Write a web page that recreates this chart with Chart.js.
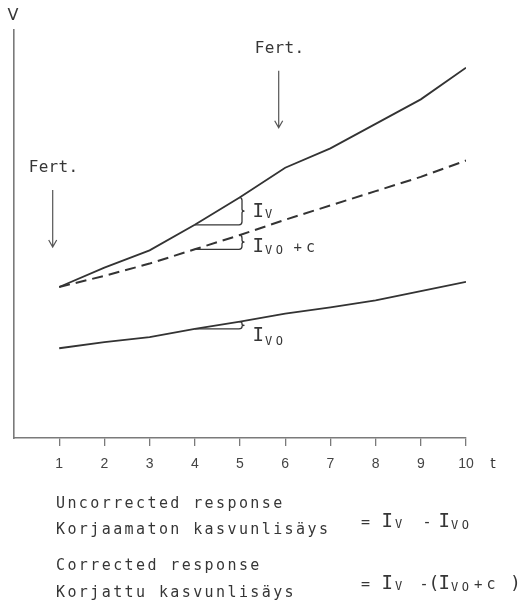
<!DOCTYPE html>
<html>
<head>
<meta charset="utf-8">
<script src="https://cdn.jsdelivr.net/npm/chart.js@4"></script>
<style>
  html, body { margin: 0; padding: 0; background: #fff; }
  #wrap { width: 522px; height: 605px; }
</style>
</head>
<body>
<div id="wrap"><canvas id="c" width="522" height="605"></canvas></div>
<script>
// Time steps (t) and tick labels of the horizontal axis
const times = [1, 2, 3, 4, 5, 6, 7, 8, 9, 10];
const tickLabels = ['1', '2', '3', '4', '5', '6', '7', '8', '9', '10'];

// Volume (V) of the fertilised stand, the expected development without
// fertilisation, and the unfertilised control stand
const fertilisedVolume = [14.8, 16.7, 18.4, 20.9, 23.6, 26.5, 28.4, 30.8, 33.2, 36.3];
const expectedVolume   = [14.8, 15.9, 17.1, 18.5, 19.9, 21.4, 22.8, 24.2, 25.6, 27.2];
const controlVolume    = [8.8, 9.4, 9.9, 10.7, 11.4, 12.2, 12.8, 13.5, 14.4, 15.3];

// Fertilisation moments and the period whose increments are marked
const fertilisationTimes = [1, 6];
const periodStart = 4;
const periodEnd = 5;

const INK = '#363636';
const AXIS = '#7a7a7a';
const MONO = '"DejaVu Sans Mono", monospace';

function pairs(values) {
  return times.map((t, i) => ({ x: t, y: values[i] }));
}

// Draws text runs; a run is placed at its own x ("at") or after the previous one
function drawRuns(ctx, x, base, runs) {
  for (const r of runs) {
    if (r.at !== undefined) x = r.at;
    x += r.gap || 0;
    ctx.font = `${r.size}px ${r.family || MONO}`;
    for (const ch of r.text) {
      ctx.fillText(ch, x, base + (r.dy || 0));
      x += ctx.measureText(ch).width + (r.spacing || 0);
    }
  }
  return x;
}

// Right curly brace between two vertical pixel positions
function brace(ctx, x, yTop, yBot) {
  const mid = (yTop + yBot) / 2;
  const r = Math.min(3, (yBot - yTop) / 4);
  ctx.beginPath();
  ctx.moveTo(x - 1, yTop);
  ctx.quadraticCurveTo(x + 2, yTop, x + 2, yTop + r);
  ctx.lineTo(x + 2, mid - r * 0.6);
  ctx.quadraticCurveTo(x + 2, mid, x + 4.5, mid);
  ctx.quadraticCurveTo(x + 2, mid, x + 2, mid + r * 0.6);
  ctx.lineTo(x + 2, yBot - r);
  ctx.quadraticCurveTo(x + 2, yBot, x - 1, yBot);
  ctx.stroke();
}

const increments = [
  { values: fertilisedVolume, dy: -8,
    runs: [{ text: 'I', size: 19 }, { text: 'V', size: 12, gap: 1, dy: 1 }] },
  { values: expectedVolume, dy: 3,
    runs: [{ text: 'I', size: 19 }, { text: 'VO', size: 12, gap: 1, dy: 2, spacing: 3.6 },
           { text: '+', size: 14, gap: 7 }, { text: 'c', size: 15, gap: 4 }] },
  { values: controlVolume, dy: 12,
    runs: [{ text: 'I', size: 19 }, { text: 'VO', size: 12, gap: 1, dy: 4, spacing: 3.6 }] }
];

const annotations = {
  id: 'annotations',
  afterDatasetsDraw(chart) {
    const { ctx, scales: { x, y } } = chart;
    const X = v => x.getPixelForValue(v);
    const Y = v => y.getPixelForValue(v);
    const i0 = times.indexOf(periodStart);
    const i1 = times.indexOf(periodEnd);

    ctx.save();
    ctx.strokeStyle = INK;
    ctx.fillStyle = INK;
    ctx.lineWidth = 1.3;
    ctx.textBaseline = 'alphabetic';
    ctx.textAlign = 'left';

    // Increment triangles with braces and labels
    for (const inc of increments) {
      const x0 = X(periodStart), x1 = X(periodEnd);
      const yLow = Y(inc.values[i0]);
      const yHigh = Y(inc.values[i1]);
      ctx.beginPath();
      ctx.moveTo(x0, yLow);
      ctx.lineTo(x1 - 1, yLow);
      ctx.stroke();
      brace(ctx, x1, yHigh, yLow);
      drawRuns(ctx, x1 + 12.5, yLow + inc.dy, inc.runs);
    }

    // Fertilisation arrows
    ctx.lineWidth = 1.2;
    ctx.strokeStyle = '#555';
    for (const t of fertilisationTimes) {
      const ax = X(t) - 6.5;
      const tip = Y(fertilisedVolume[times.indexOf(t)]) - 40;
      const tail = tip - 57;
      ctx.beginPath();
      ctx.moveTo(ax, tail);
      ctx.lineTo(ax, tip);
      ctx.moveTo(ax - 4, tip - 7);
      ctx.lineTo(ax, tip);
      ctx.lineTo(ax + 4, tip - 7);
      ctx.stroke();
      drawRuns(ctx, ax - 24, tail - 18, [{ text: 'Fert.', size: 16, spacing: 0.3 }]);
    }

    // Axis names
    ctx.fillStyle = INK;
    ctx.textAlign = 'center';
    ctx.font = '16px "DejaVu Sans", sans-serif';
    ctx.fillText('V', x.left - 1, 20);
    ctx.font = '14px "DejaVu Sans", sans-serif';
    ctx.fillText('t', x.right + 27, 468);
    ctx.textAlign = 'left';

    // Definitions below the chart
    const body = { size: 15, spacing: 2.4 };
    drawRuns(ctx, 56, 508, [{ ...body, text: 'Uncorrected response' }]);
    drawRuns(ctx, 56, 534, [{ ...body, text: 'Korjaamaton kasvunlisäys' }]);
    drawRuns(ctx, 56, 570, [{ ...body, text: 'Corrected response' }]);
    drawRuns(ctx, 56, 597, [{ ...body, text: 'Korjattu kasvunlisäys' }]);

    drawRuns(ctx, 0, 527, [
      { text: '=', size: 15, at: 361 },
      { text: 'I', size: 19, at: 381.5 },
      { text: 'V', size: 12, at: 395, dy: 1 },
      { text: '-', size: 15, at: 422.5 },
      { text: 'I', size: 19, at: 438.5 },
      { text: 'VO', size: 12, at: 451, dy: 2, spacing: 3.6 }
    ]);
    drawRuns(ctx, 0, 589, [
      { text: '=', size: 15, at: 361 },
      { text: 'I', size: 19, at: 381.5 },
      { text: 'V', size: 12, at: 395, dy: 1 },
      { text: '-', size: 15, at: 419.5 },
      { text: '(', size: 18, at: 428.5 },
      { text: 'I', size: 19, at: 438.5 },
      { text: 'VO', size: 12, at: 451, dy: 2, spacing: 3.6 },
      { text: '+', size: 14, at: 474 },
      { text: 'c', size: 15, at: 486.5 },
      { text: ')', size: 18, at: 510 }
    ]);
    ctx.restore();
  }
};

new Chart(document.getElementById('c'), {
  type: 'line',
  data: {
    datasets: [
      { label: 'Fertilised', data: pairs(fertilisedVolume), borderColor: '#333', borderWidth: 1.8 },
      { label: 'Expected without fertilisation', data: pairs(expectedVolume), borderColor: '#333',
        borderWidth: 2, borderDash: [11, 6] },
      { label: 'Control', data: pairs(controlVolume), borderColor: '#333', borderWidth: 1.8 }
    ]
  },
  options: {
    responsive: false,
    animation: false,
    devicePixelRatio: 1,
    layout: { padding: { left: 14, top: 30, right: 56, bottom: 127 } },
    elements: { point: { radius: 0 }, line: { tension: 0, fill: false } },
    plugins: { legend: { display: false }, tooltip: { enabled: false } },
    scales: {
      x: {
        type: 'linear',
        min: 0,
        max: 10,
        afterBuildTicks: s => { s.ticks = times.map(v => ({ value: v })); },
        afterFit: s => { s.height = 40; },
        ticks: {
          autoSkip: false,
          maxRotation: 0,
          padding: 10,
          color: '#444',
          font: { family: '"Liberation Sans", sans-serif', size: 14 },
          callback: v => tickLabels[times.indexOf(v)]
        },
        grid: { drawOnChartArea: false, drawTicks: true, tickLength: 8, color: AXIS, lineWidth: 1.3 },
        border: { display: true, color: AXIS, width: 1.6 }
      },
      y: {
        type: 'linear',
        min: 0,
        max: 40,
        afterFit: s => { s.width = 0; },
        ticks: { display: false },
        grid: { drawOnChartArea: false, drawTicks: false },
        border: { display: true, color: AXIS, width: 1.6 }
      }
    }
  },
  plugins: [annotations]
});
</script>
</body>
</html>
